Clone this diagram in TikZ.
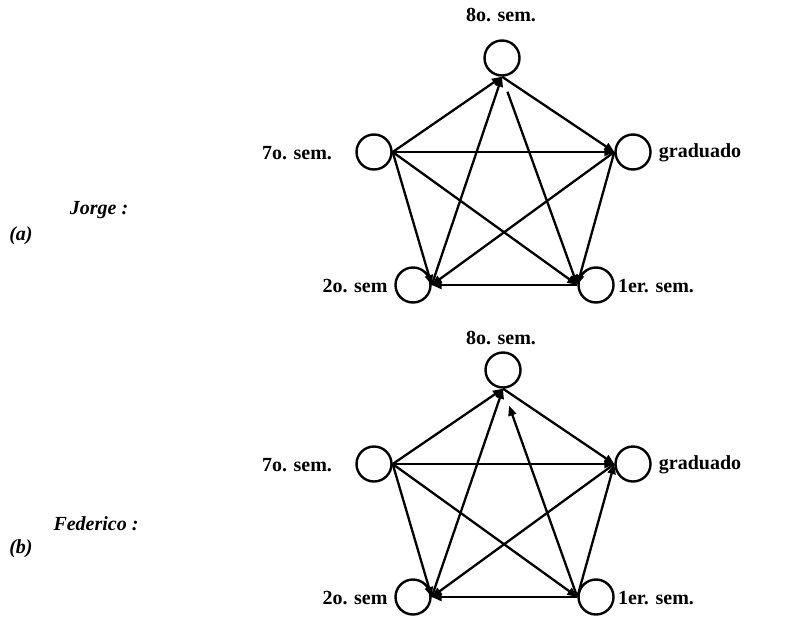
\documentclass[tikz,border=0pt]{standalone}
\usepackage{fontspec}
\setmainfont{Liberation Serif}
\usetikzlibrary{arrows.meta}
\begin{document}
\begin{tikzpicture}[x=1pt,y=-1pt,
  state/.style={circle,draw,line width=2.4pt,minimum size=35pt,inner sep=0pt},
  lbl/.style={font=\fontsize{20}{23}\selectfont\bfseries},
  case/.style={font=\fontsize{20}{23}\selectfont\bfseries\itshape},
  edge/.style={line width=2.3pt,-{Triangle[length=10pt,width=8pt]}}]
\useasboundingbox (0,0) rectangle (800,616);

% ---------- (a) Jorge ----------
\node[state] (a8) at (502,58) {};
\node[state] (a7) at (374,152) {};
\node[state] (ag) at (633,152) {};
\node[state] (a2) at (413,285) {};
\node[state] (a1) at (596,285) {};

\node[lbl] (a8l) at (501,15) {8o. sem.};
\node[lbl] (a7l) at (297,153) {7o. sem.};
\node[lbl] (agl) at (700,153) {graduado};
\node[lbl] (a2l) at (355,286) {2o. sem};
\node[lbl] (a1l) at (656,286) {1er. sem.};

\node[case] (al) at (21,236) {(a)};
\node[case] (aj) at (99,210) {Jorge :};

\draw[edge] (a7.east) -- (a8.south);
\draw[edge] (a2.east) -- (a8.south);
\draw[edge] (a8.south) -- (ag.west);
\draw[edge,shorten <=16pt] (a8.south) -- (a1.west);
\draw[edge] (a7.east) -- (ag.west);
\draw[edge] (a7.east) -- (a2.east);
\draw[edge] (a7.east) -- (a1.west);
\draw[edge] (ag.west) -- (a2.east);
\draw[edge] (ag.west) -- (a1.west);
\draw[edge] (a1.west) -- (a2.east);

% ---------- (b) Federico ----------
\node[state] (b8) at (503,370) {};
\node[state] (b7) at (374,464) {};
\node[state] (bg) at (633,464) {};
\node[state] (b2) at (413,597) {};
\node[state] (b1) at (596,597) {};

\node[lbl] (b8l) at (501,338) {8o. sem.};
\node[lbl] (b7l) at (297,465) {7o. sem.};
\node[lbl] (bgl) at (700,465) {graduado};
\node[lbl] (b2l) at (355,598) {2o. sem};
\node[lbl] (b1l) at (656,598) {1er. sem.};

\node[case] (bl) at (21,549) {(b)};
\node[case] (bf) at (96,524) {Federico :};

\draw[edge] (b7.east) -- (b8.south);
\draw[edge] (b2.east) -- (b8.south);
\draw[edge,shorten >=18pt] (b1.west) -- (b8.south);
\draw[edge] (b8.south) -- (bg.west);
\draw[edge] (b7.east) -- (bg.west);
\draw[edge] (b7.east) -- (b2.east);
\draw[edge] (b7.east) -- (b1.west);
\draw[edge] (bg.west) -- (b2.east);
\draw[edge] (b1.west) -- (bg.west);
\draw[edge] (b1.west) -- (b2.east);
\end{tikzpicture}
\end{document}
